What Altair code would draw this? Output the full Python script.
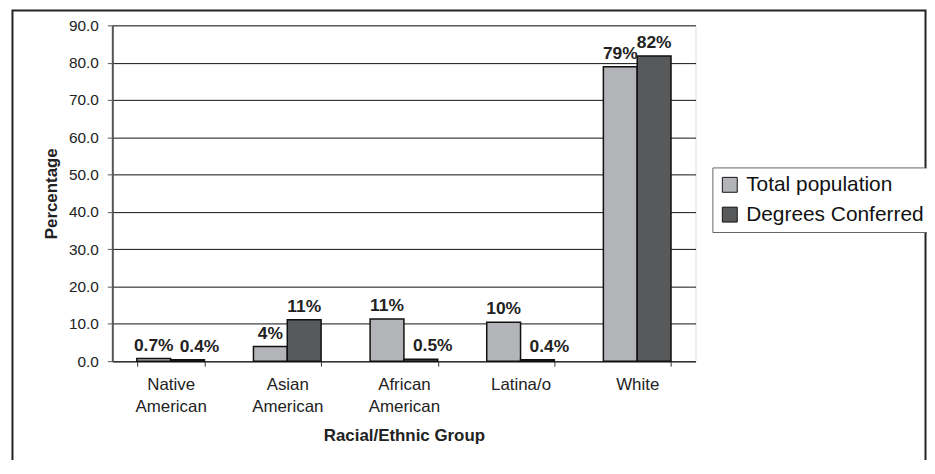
import altair as alt
import pandas as pd

categories = ["Native American", "Asian American", "African American", "Latina/o", "White"]
series_names = ["Total population", "Degrees Conferred"]
total_values = [0.7, 3.9, 11.3, 10.4, 78.9]
degree_values = [0.4, 11.1, 0.5, 0.4, 81.8]
total_labels = ["0.7%", "4%", "11%", "10%", "79%"]
degree_labels = ["0.4%", "11%", "0.5%", "0.4%", "82%"]
y_ticks = [0, 10, 20, 30, 40, 50, 60, 70, 80, 90]

rows = []
for c, v, l in zip(categories, total_values, total_labels):
    rows.append({"category": c, "series": series_names[0], "value": v, "label": l})
for c, v, l in zip(categories, degree_values, degree_labels):
    rows.append({"category": c, "series": series_names[1], "value": v, "label": l})
df = pd.DataFrame(rows)

FONT = "Liberation Sans"

x_enc = alt.X(
    "category:N",
    sort=categories,
    scale=alt.Scale(paddingInner=0.42, paddingOuter=0.21),
    axis=alt.Axis(
        title="Racial/Ethnic Group",
        labelAngle=0,
        labelExpr="split(datum.label, ' ')",
        labelFont=FONT,
        labelFontSize=17,
        labelColor="#222",
        labelLineHeight=22,
        labelPadding=11,
        tickBand="extent",
        tickSize=5,
        tickColor="#333",
        domainColor="#333",
        domainWidth=1.5,
        titleFont=FONT,
        titleFontSize=17,
        titleFontWeight="bold",
        titleColor="#222",
        titlePadding=13,
    ),
)
xoff_enc = alt.XOffset("series:N", sort=series_names, scale=alt.Scale(paddingInner=0, paddingOuter=0))
y_enc = alt.Y(
    "value:Q",
    scale=alt.Scale(domain=[0, 90], nice=False),
    axis=alt.Axis(
        title="Percentage",
        values=y_ticks,
        format=".1f",
        labelOverlap=False,
        labelFont=FONT,
        labelFontSize=15.5,
        labelColor="#222",
        labelPadding=9,
        tickSize=5,
        tickColor="#555",
        domainColor="#555",
        domainWidth=2,
        grid=True,
        gridColor="#111",
        gridWidth=1,
        titleFont=FONT,
        titleFontSize=17,
        titleFontWeight="bold",
        titleColor="#222",
        titlePadding=8,
    ),
)

bars = alt.Chart(df).mark_bar(stroke="#111", strokeWidth=1.5).encode(
    x=x_enc,
    xOffset=xoff_enc,
    y=y_enc,
    color=alt.Color(
        "series:N",
        sort=series_names,
        scale=alt.Scale(domain=series_names, range=["#b3b4b7", "#58595b"]),
        legend=alt.Legend(
            title=None,
            orient="none",
            legendX=604,
            legendY=143,
            direction="vertical",
            strokeColor="#666",
            fillColor="white",
            padding=7,
            symbolType="square",
            symbolSize=225,
            symbolStrokeColor="#111",
            symbolStrokeWidth=1,
            labelFont=FONT,
            labelFontSize=21,
            labelColor="#111",
            labelOffset=6,
            rowPadding=8,
            labelLimit=400,
        ),
    ),
)

text_base = alt.Chart(df).encode(
    x=x_enc,
    xOffset=xoff_enc,
    y=y_enc,
    text="label:N",
)
small_deg = "datum.series == 'Degrees Conferred' && datum.value < 1"
labels_main = text_base.transform_filter("!(" + small_deg + ")").mark_text(
    font=FONT, fontSize=17.5, fontWeight="bold", color="#222", baseline="alphabetic", dy=-8
)
labels_shift = text_base.transform_filter(small_deg).mark_text(
    font=FONT, fontSize=17.5, fontWeight="bold", color="#222", baseline="alphabetic", dy=-8, dx=12
)

frame = alt.Chart(pd.DataFrame({"f": [0]})).mark_rect(
    filled=False, stroke="#222", strokeWidth=2
).encode(
    x=alt.value(-100.5), x2=alt.value(818.5), y=alt.value(-15), y2=alt.value(500)
)

chart = alt.layer(bars, labels_main, labels_shift, frame).properties(
    width=587,
    height=338,
    autosize=alt.AutoSizeParams(type="none"),
    padding={"left": 105, "top": 16, "right": 233, "bottom": 98},
).configure_view(stroke="#999", strokeWidth=1).configure(background="white")

chart.save("out.html", embed_options={"renderer": "svg", "actions": False})
